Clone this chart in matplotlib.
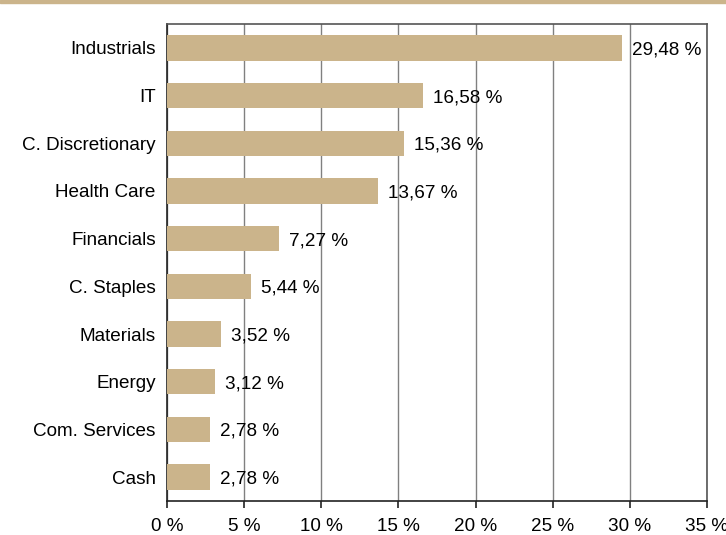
import matplotlib
matplotlib.use("Agg")
import matplotlib.pyplot as plt
from matplotlib.patches import Rectangle

categories = ["Industrials", "IT", "C. Discretionary", "Health Care", "Financials",
              "C. Staples", "Materials", "Energy", "Com. Services", "Cash"]
values = [29.48, 16.58, 15.36, 13.67, 7.27, 5.44, 3.52, 3.12, 2.78, 2.78]
xticks = [0, 5, 10, 15, 20, 25, 30, 35]

plt.rcParams['font.family'] = ['Liberation Sans', 'DejaVu Sans']
bar_color = "#CBB48B"
fs = 13.6

fig = plt.figure(figsize=(7.26, 5.35), dpi=100)
ax = fig.add_axes([0.2300, 0.0636, 0.7438, 0.8915])

y = list(range(len(categories)))
ax.barh(y, values, height=0.53, color=bar_color, zorder=3)
for yi, v in zip(y, values):
    ax.annotate(f"{v:.2f} %".replace(".", ","), (v, yi), xytext=(7, 0),
                textcoords="offset points", va="center_baseline", ha="left",
                fontsize=fs, color="black", zorder=4)

ax.set_xlim(0, 35)
ax.set_ylim(len(categories) - 0.5, -0.5)
ax.set_yticks(y)
ax.set_yticklabels(categories, fontsize=fs, va="center_baseline")
ax.set_xticks(xticks)
ax.set_xticklabels([f"{t} %" for t in xticks], fontsize=fs)
ax.tick_params(axis="y", length=0, pad=8)
ax.tick_params(axis="x", direction="out", length=5, width=1.2, color="#222222", pad=7)
ax.grid(axis="x", color="#808080", linewidth=1, zorder=1)
for s in ["top", "right"]:
    ax.spines[s].set_color("#555555")
    ax.spines[s].set_linewidth(1.2)
for s in ["left", "bottom"]:
    ax.spines[s].set_color("#222222")
    ax.spines[s].set_linewidth(1.2)

fig.patches.append(Rectangle((0, 1 - 3/535), 1, 3/535, transform=fig.transFigure,
                             color=bar_color, zorder=0))

fig.savefig("out.png", dpi=100)
